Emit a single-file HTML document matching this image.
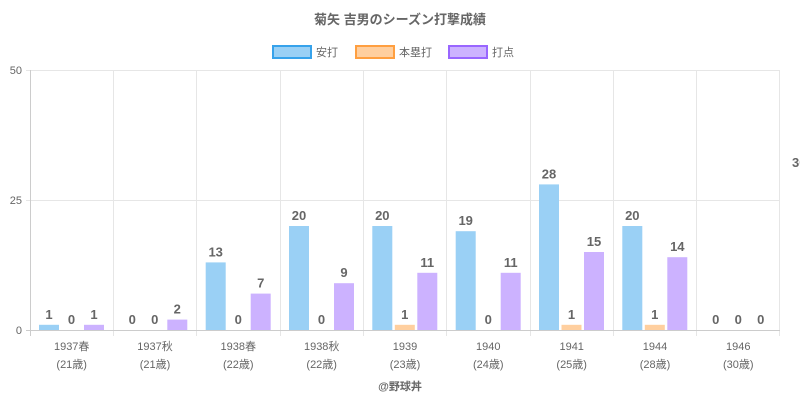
<!DOCTYPE html>
<html><head><meta charset="utf-8"><style>body{margin:0;background:#fff}svg{display:block}text{font-family:"Liberation Sans","Noto Sans CJK JP",sans-serif}</style></head><body>
<svg width="800" height="400" xmlns="http://www.w3.org/2000/svg">
<text x="400" y="24" text-anchor="middle" font-size="13" font-weight="bold" fill="#666">菊矢 吉男のシーズン打撃成績</text>
<g font-size="11" fill="#666">
<rect x="273" y="46" width="38" height="12" fill="#9ad0f5" stroke="#36a2eb" stroke-width="2"/><text x="316" y="56">安打</text>
<rect x="356" y="46" width="38" height="12" fill="#ffcf9f" stroke="#ff9f40" stroke-width="2"/><text x="399" y="56">本塁打</text>
<rect x="449" y="46" width="38" height="12" fill="#ccb2ff" stroke="#9966ff" stroke-width="2"/><text x="492" y="56">打点</text>
</g>
<g stroke="#e6e6e6" stroke-width="1">
<line x1="26" y1="70.5" x2="780" y2="70.5"/><line x1="26" y1="200.5" x2="780" y2="200.5"/>
<line x1="113.5" y1="70" x2="113.5" y2="336"/><line x1="196.5" y1="70" x2="196.5" y2="336"/><line x1="280.5" y1="70" x2="280.5" y2="336"/><line x1="363.5" y1="70" x2="363.5" y2="336"/><line x1="446.5" y1="70" x2="446.5" y2="336"/><line x1="530.5" y1="70" x2="530.5" y2="336"/><line x1="613.5" y1="70" x2="613.5" y2="336"/><line x1="696.5" y1="70" x2="696.5" y2="336"/><line x1="779.5" y1="70" x2="779.5" y2="336"/>
</g>
<line x1="30.5" y1="70" x2="30.5" y2="336" stroke="#ccc"/>
<line x1="26" y1="330.5" x2="780" y2="330.5" stroke="#ccc"/>
<g font-size="11" fill="#666" text-anchor="end"><text x="22" y="74">50</text><text x="22" y="204">25</text><text x="22" y="334">0</text></g>
<g fill="#9ad0f5">
<rect x="39" y="324.8" width="20" height="5.2"/>
<rect x="205.7" y="262.4" width="20" height="67.6"/>
<rect x="289" y="226" width="20" height="104"/>
<rect x="372.3" y="226" width="20" height="104"/>
<rect x="455.7" y="231.2" width="20" height="98.8"/>
<rect x="539" y="184.4" width="20" height="145.6"/>
<rect x="622.3" y="226" width="20" height="104"/>
</g>
<g fill="#ffcf9f">
<rect x="394.8" y="324.8" width="20" height="5.2"/>
<rect x="561.5" y="324.8" width="20" height="5.2"/>
<rect x="644.8" y="324.8" width="20" height="5.2"/>
</g>
<g fill="#ccb2ff">
<rect x="84" y="324.8" width="20" height="5.2"/>
<rect x="167.3" y="319.6" width="20" height="10.4"/>
<rect x="250.7" y="293.6" width="20" height="36.4"/>
<rect x="334" y="283.2" width="20" height="46.8"/>
<rect x="417.3" y="272.8" width="20" height="57.2"/>
<rect x="500.7" y="272.8" width="20" height="57.2"/>
<rect x="584" y="252" width="20" height="78"/>
<rect x="667.3" y="257.2" width="20" height="72.8"/>
</g>
<g font-size="13" font-weight="bold" fill="#666" text-anchor="middle">
<text x="49" y="319">1</text><text x="71.5" y="324">0</text><text x="94" y="319">1</text>
<text x="132.3" y="324">0</text><text x="154.8" y="324">0</text><text x="177.3" y="313.6">2</text>
<text x="215.7" y="256.4">13</text><text x="238.2" y="324">0</text><text x="260.7" y="287.6">7</text>
<text x="299" y="220">20</text><text x="321.5" y="324">0</text><text x="344" y="277.2">9</text>
<text x="382.3" y="220">20</text><text x="404.8" y="319">1</text><text x="427.3" y="266.8">11</text>
<text x="465.7" y="225.2">19</text><text x="488.2" y="324">0</text><text x="510.7" y="266.8">11</text>
<text x="549" y="178.4">28</text><text x="571.5" y="319">1</text><text x="594" y="246">15</text>
<text x="632.3" y="220">20</text><text x="654.8" y="319">1</text><text x="677.3" y="251.2">14</text>
<text x="715.7" y="324">0</text><text x="738.2" y="324">0</text><text x="760.7" y="324">0</text>
</g>
<g font-size="11" fill="#666" text-anchor="middle">
<text x="71.7" y="350">1937春</text><text x="71.7" y="368">(21歳)</text>
<text x="155" y="350">1937秋</text><text x="155" y="368">(21歳)</text>
<text x="238.3" y="350">1938春</text><text x="238.3" y="368">(22歳)</text>
<text x="321.7" y="350">1938秋</text><text x="321.7" y="368">(22歳)</text>
<text x="405" y="350">1939</text><text x="405" y="368">(23歳)</text>
<text x="488.3" y="350">1940</text><text x="488.3" y="368">(24歳)</text>
<text x="571.7" y="350">1941</text><text x="571.7" y="368">(25歳)</text>
<text x="655" y="350">1944</text><text x="655" y="368">(28歳)</text>
<text x="738.3" y="350">1946</text><text x="738.3" y="368">(30歳)</text>
</g>
<text x="400" y="390" text-anchor="middle" font-size="11" font-weight="bold" fill="#666">@野球丼</text>
<text x="792" y="167" font-size="13" font-weight="bold" fill="#666">30</text>
</svg></body></html>
